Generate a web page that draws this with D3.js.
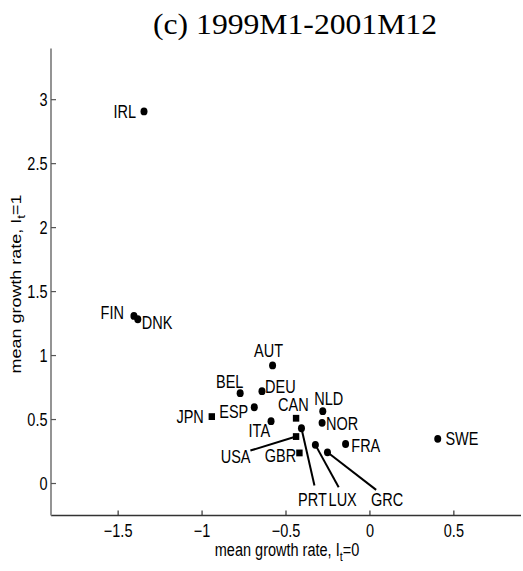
<!DOCTYPE html>
<html>
<head>
<meta charset="utf-8">
<script src="https://cdn.jsdelivr.net/npm/d3@7"></script>
<style>
  html, body { margin: 0; padding: 0; background: #fff; }
  svg { display: block; }
</style>
</head>
<body>
<svg id="chart" width="523" height="571"></svg>
<script>
// ---- data ----
const countries = ["IRL","FIN","DNK","AUT","BEL","DEU","ESP","JPN","CAN","ITA","NLD","NOR","USA","PRT","FRA","LUX","GRC","GBR","SWE"];
const growthI0  = [-1.346,-1.406,-1.383,-0.580,-0.773,-0.643,-0.689,-0.942,-0.440,-0.589,-0.281,-0.285,-0.440,-0.408,-0.145,-0.325,-0.253,-0.420,0.404];
const growthI1  = [2.908,1.310,1.284,0.923,0.706,0.722,0.596,0.523,0.510,0.487,0.565,0.474,0.367,0.432,0.309,0.302,0.244,0.239,0.349];
const markerType = ["dot","dot","dot","dot","dot","dot","dot","square","square","dot","dot","dot","square","dot","dot","dot","dot","square","dot"];
const xTicks = [-1.5,-1,-0.5,0,0.5];
const yTicks = [0,0.5,1,1.5,2,2.5,3];
const xTickLabels = ["\u22121.5","\u22121","\u22120.5","0","0.5"];
const yTickLabels = ["0","0.5","1","1.5","2","2.5","3"];
const titleText = "(c) 1999M1-2001M12";

// ---- label layout (pixel offsets from the point) ----
const labelLayout = {
  IRL: {dx:-8,   dy:0,    a:"end"},
  FIN: {dx:-10,  dy:-3,   a:"end"},
  DNK: {dx:4,    dy:3,    a:"start"},
  AUT: {dx:-4,   dy:-15,  a:"middle"},
  BEL: {dx:-10.5,dy:-12,  a:"middle"},
  DEU: {dx:3,    dy:-4.5, a:"start"},
  ESP: {dx:-6,   dy:4,    a:"end"},
  JPN: {dx:-8,   dy:0,    a:"end"},
  CAN: {dx:-2.7, dy:-14,  a:"middle"},
  ITA: {dx:-1,   dy:9,    a:"end"},
  NLD: {dx:6,    dy:-12.4,a:"middle"},
  NOR: {dx:4,    dy:1,    a:"start"},
  FRA: {dx:5.7,  dy:2,    a:"start"},
  GBR: {dx:-3.3, dy:3,    a:"end"},
  SWE: {dx:7.7,  dy:-0.7, a:"start"},
  USA: {dx:-60.5,dy:19.5, a:"middle", lx:-45.7, ly:14},
  PRT: {dx:11,   dy:71.3, a:"middle", lx:13,    ly:57.3},
  LUX: {dx:27.3, dy:54.7, a:"middle", lx:23.3,  ly:42.4},
  GRC: {dx:59.7, dy:47.3, a:"middle", lx:48.7,  ly:37.6}
};

const svg = d3.select("#chart");
const font = "'Liberation Sans', Arial, Helvetica, sans-serif";
const fs = 14.5, stretch = 1.24;

const x = d3.scaleLinear().domain([-1.9, 0.9]).range([51, 521]);
const y = d3.scaleLinear().domain([-0.25, 3.4]).range([515.5, 48.5]);

function hText(parent, px, py, str, anchor) {
  const g = parent.append("g").attr("transform", `translate(${px},${py}) scale(1,${stretch})`);
  return g.append("text")
    .attr("x", 0).attr("y", 0).attr("dy", "0.36em")
    .attr("text-anchor", anchor)
    .attr("font-family", font).attr("font-size", fs)
    .attr("fill", "#000")
    .text(str);
}

// title
svg.append("text")
  .attr("x", 295).attr("y", 34)
  .attr("text-anchor", "middle")
  .attr("font-family", "'Liberation Serif', 'Times New Roman', serif")
  .attr("font-size", 30)
  .attr("textLength", 284).attr("lengthAdjust", "spacingAndGlyphs")
  .text(titleText);

// axes
const xAxis = d3.axisBottom(x).tickValues(xTicks).tickSize(0).tickFormat(() => "");
const gx = svg.append("g").attr("transform", `translate(0,${y.range()[0]})`).call(xAxis);
gx.select(".domain").attr("stroke", "#333").attr("stroke-width", 1.3).attr("d", `M${x.range()[0]},0H${x.range()[1]}`);
gx.selectAll(".tick line").remove();
xTicks.forEach((t,i) => {
  gx.append("line").attr("x1", x(t)).attr("x2", x(t)).attr("y1", 0).attr("y2", -5)
    .attr("stroke", "#333").attr("stroke-width", 1.2);
  hText(svg, x(t), 531, xTickLabels[i], "middle");
});

const yAxis = d3.axisLeft(y).tickValues(yTicks).tickSize(0).tickFormat(() => "");
const gy = svg.append("g").attr("transform", `translate(${x.range()[0]},0)`).call(yAxis);
gy.select(".domain").attr("stroke", "#888").attr("stroke-width", 1.8).attr("d", `M0,${y.range()[1]}V${y.range()[0]}`);
gy.selectAll(".tick line").remove();
yTicks.forEach((t,i) => {
  gy.append("line").attr("x1", 0).attr("x2", 5).attr("y1", y(t)).attr("y2", y(t))
    .attr("stroke", "#555").attr("stroke-width", 1.2);
  hText(svg, 47.5, y(t), yTickLabels[i], "end");
});

// axis labels
{
  const g = svg.append("g").attr("transform", `translate(287,556) scale(1,${stretch})`);
  const t = g.append("text").attr("text-anchor", "middle").attr("y", 0)
    .attr("font-family", font).attr("font-size", fs);
  t.append("tspan").text("mean growth rate, I");
  t.append("tspan").attr("font-size", fs*0.75).attr("dy", 4).text("t");
  t.append("tspan").attr("dy", -4).text("=0");
}
{
  const g = svg.append("g").attr("transform", `translate(21,284) rotate(-90) scale(${stretch},1)`);
  const t = g.append("text").attr("text-anchor", "middle").attr("y", 0)
    .attr("font-family", font).attr("font-size", fs);
  t.append("tspan").text("mean growth rate, I");
  t.append("tspan").attr("font-size", fs*0.75).attr("dy", 4).text("t");
  t.append("tspan").attr("dy", -4).text("=1");
}

// points
const pts = countries.map((c,i) => ({c, xv: growthI0[i], yv: growthI1[i], m: markerType[i]}));
const gp = svg.append("g");

// leader lines
pts.forEach(p => {
  const L = labelLayout[p.c];
  if (L.lx !== undefined) {
    gp.append("line")
      .attr("x1", x(p.xv)).attr("y1", y(p.yv))
      .attr("x2", x(p.xv) + L.lx).attr("y2", y(p.yv) + L.ly)
      .attr("stroke", "#000").attr("stroke-width", 2);
  }
});

pts.forEach(p => {
  if (p.m === "dot") {
    gp.append("ellipse").attr("cx", x(p.xv)).attr("cy", y(p.yv)).attr("rx", 3.5).attr("ry", 3.9).attr("fill", "#000");
  } else {
    gp.append("rect").attr("x", x(p.xv) - 3.2).attr("y", y(p.yv) - 3.4).attr("width", 6.4).attr("height", 6.8).attr("fill", "#000");
  }
  const L = labelLayout[p.c];
  hText(gp, x(p.xv) + L.dx, y(p.yv) + L.dy, p.c, L.a);
});
</script>
</body>
</html>
